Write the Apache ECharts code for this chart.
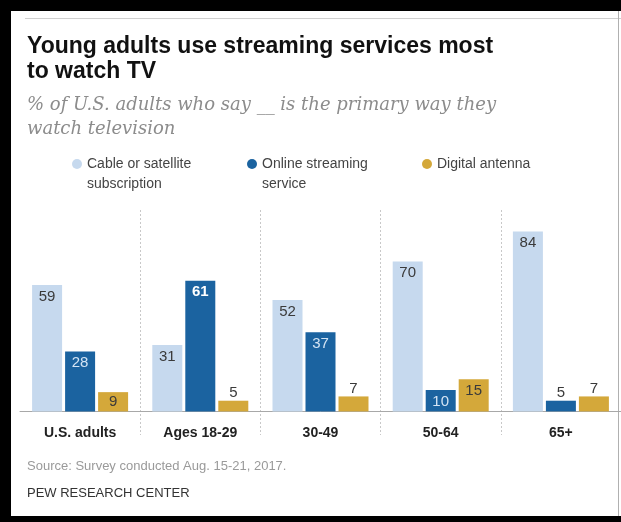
<!DOCTYPE html>
<html>
<head>
<meta charset="utf-8">
<script src="https://cdn.jsdelivr.net/npm/echarts@6/dist/echarts.min.js"></script>
<style>
  html, body { margin: 0; padding: 0; background: #fff; }
  #chart { width: 621px; height: 522px; }
</style>
</head>
<body>
<div id="chart"></div>
<script>
// Primary way U.S. adults watch television, by age group (%)
const categories = ['U.S. adults', 'Ages 18-29', '30-49', '50-64', '65+'];
const seriesNames = ['Cable or satellite\nsubscription', 'Online streaming\nservice', 'Digital antenna'];
const cableValues = [59, 31, 52, 70, 84];
const streamingValues = [28, 61, 37, 10, 5];
const antennaValues = [9, 5, 7, 15, 7];

const COLORS = ['#c6d9ee', '#1b63a0', '#d4a83a'];
const FONT = '"Liberation Sans", Arial, sans-serif';

// Values too short to hold a label inside the bar get it above instead
function labelled(values, insideColor, opts) {
  opts = opts || {};
  return values.map(function (v, i) {
    const inside = v >= 9;
    const bold = opts.boldIndex === i;
    return {
      value: v,
      label: {
        position: inside ? 'insideTop' : 'top',
        distance: inside ? (v < 10 ? 2 : 4) : 0,
        color: inside ? (bold ? '#ffffff' : insideColor) : '#3a3a3a',
        fontWeight: bold ? 'bold' : 'normal'
      }
    };
  });
}

const chart = echarts.init(document.getElementById('chart'));

const barBase = {
  type: 'bar',
  barWidth: 30,
  barGap: '10%',
  label: { show: true, fontSize: 15, fontFamily: FONT },
  emphasis: { disabled: true }
};

chart.setOption({
  animation: false,
  backgroundColor: '#ffffff',
  color: COLORS,
  title: [
    {
      text: 'Young adults use streaming services most\nto watch TV',
      left: 27, top: 34, padding: 0,
      textStyle: { fontFamily: FONT, fontWeight: 'bold', fontSize: 23, lineHeight: 25, color: '#111' }
    },
    {
      text: '% of U.S. adults who say __ is the primary way they\nwatch television',
      left: 27, top: 93, padding: 0,
      textStyle: { fontFamily: '"DejaVu Serif", serif', fontStyle: 'italic', fontWeight: 'normal', fontSize: 18, lineHeight: 24, color: '#8c8c8c' }
    },
    {
      text: 'Source: Survey conducted Aug. 15-21, 2017.',
      left: 27, top: 460, padding: 0,
      textStyle: { fontFamily: FONT, fontWeight: 'normal', fontSize: 13, color: '#9a9a9a' }
    },
    {
      text: 'PEW RESEARCH CENTER',
      left: 27, top: 487, padding: 0,
      textStyle: { fontFamily: FONT, fontWeight: 'normal', fontSize: 13, color: '#333' }
    }
  ],
  legend: {
    left: 72, top: 134, padding: 0,
    icon: 'circle', itemWidth: 10, itemHeight: 10, itemGap: 8,
    selectedMode: false,
    // a leading blank line keeps the dot level with the first line of a two-line name
    formatter: function (name) { return name.indexOf('\n') >= 0 ? '\n' + name : name; },
    textStyle: {
      fontFamily: FONT, fontSize: 14, color: '#444',
      lineHeight: 20, width: 152
    },
    data: seriesNames
  },
  grid: { left: 20, top: 210, width: 604, bottom: 87 },
  xAxis: {
    type: 'category',
    data: categories,
    axisLine: { onZero: true, lineStyle: { color: '#a8a8a8', width: 1 } },
    axisTick: { show: false },
    axisLabel: { fontFamily: FONT, fontWeight: 'bold', fontSize: 14, color: '#222', margin: -9 },
    splitLine: {
      show: true, showMinLine: false, showMaxLine: false,
      lineStyle: { color: '#c8c8c8', type: [2, 2], width: 1 }
    }
  },
  yAxis: {
    type: 'value', min: -11, max: 94, show: false,
    splitLine: { show: false }
  },
  series: [
    Object.assign({}, barBase, { name: seriesNames[0], data: labelled(cableValues, '#3a3a3a') }),
    Object.assign({}, barBase, { name: seriesNames[1], data: labelled(streamingValues, '#d4e4f4', { boldIndex: 1 }) }),
    Object.assign({}, barBase, { name: seriesNames[2], data: labelled(antennaValues, '#3a3a3a') })
  ],
  graphic: [
    // thin rule above the heading
    { type: 'rect', shape: { x: 25, y: 18, width: 596, height: 1 }, style: { fill: '#d0d0d0' }, silent: true },
    // black frame
    { type: 'rect', shape: { x: 0, y: 0, width: 11, height: 522 }, style: { fill: '#000' }, silent: true },
    { type: 'rect', shape: { x: 0, y: 0, width: 621, height: 11 }, style: { fill: '#000' }, silent: true },
    { type: 'rect', shape: { x: 0, y: 516, width: 621, height: 6 }, style: { fill: '#000' }, silent: true },
    { type: 'rect', shape: { x: 618, y: 11, width: 1, height: 505 }, style: { fill: '#b0b0b0' }, silent: true }
  ]
});
</script>
</body>
</html>
